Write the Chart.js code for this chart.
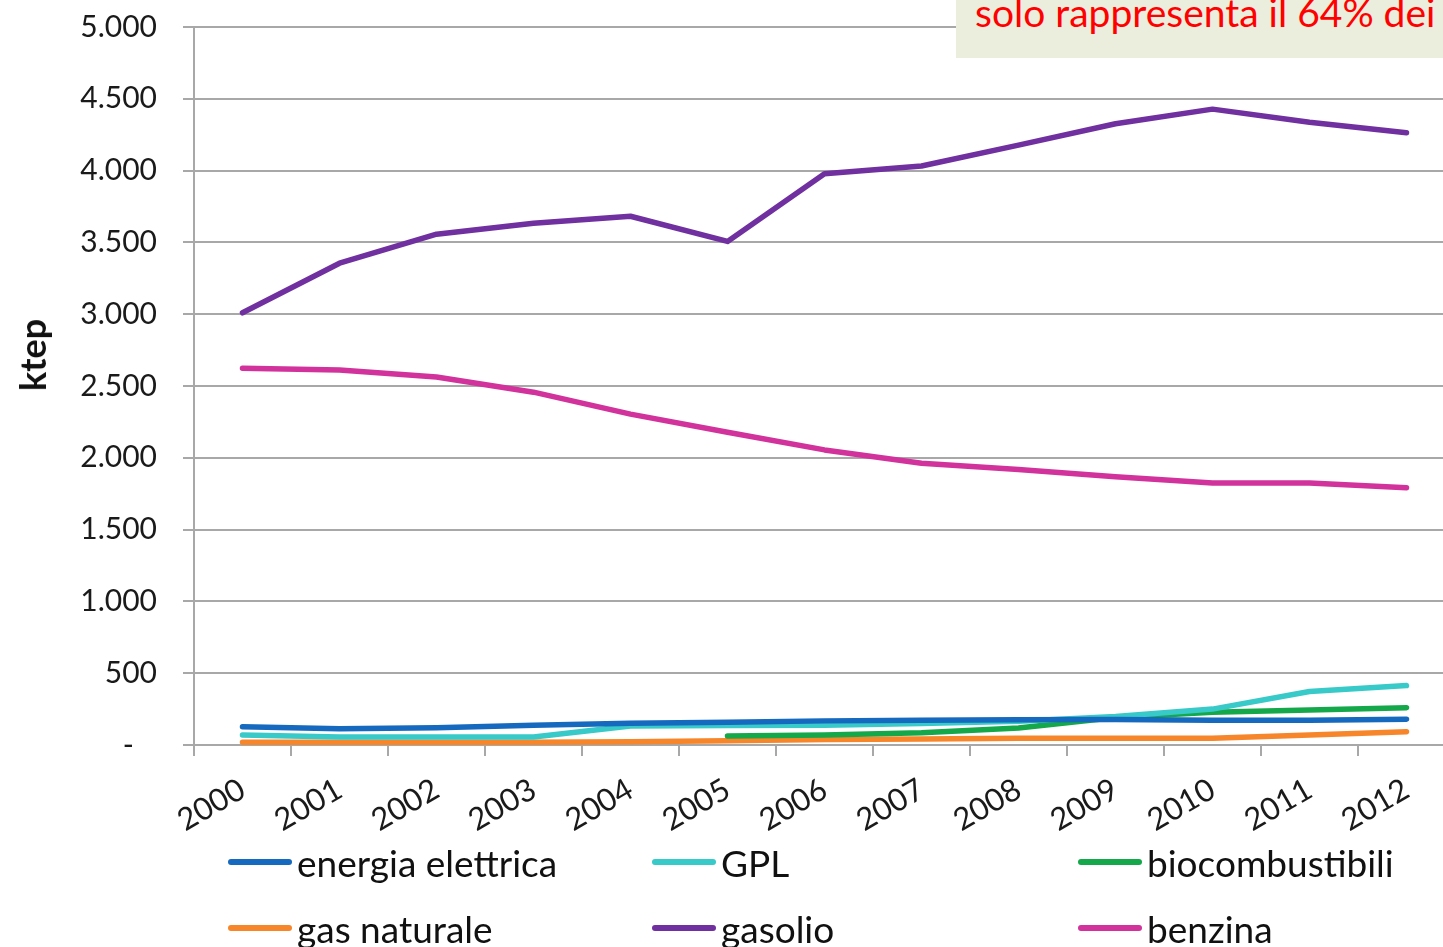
<!DOCTYPE html>
<html lang="it">
<head>
<meta charset="utf-8">
<title>Consumi trasporti ktep</title>
<script src="https://cdn.jsdelivr.net/npm/chart.js@4.4.1/dist/chart.umd.min.js"></script>
<style>
    html, body { margin: 0; padding: 0; background: #fff; overflow: hidden; width: 1443px; height: 947px; }
    #wrap { position: absolute; left: 0; top: 0; width: 1460px; height: 947px; }
    #note { position: absolute; left: 956px; top: 0; width: 487px; height: 58px; background: #ebeedd; overflow: hidden; }
    #note span { position: absolute; left: 19px; top: -11px; font: 39px Lato, sans-serif; color: #ff0000; white-space: nowrap; }
    #ytitle { position: absolute; left: 32px; top: 355px; transform: translate(-50%, -50%) rotate(-90deg); font: bold 36px Lato, sans-serif; color: #111; white-space: nowrap; }
    .leg { position: absolute; display: flex; align-items: center; font: 37px Lato, sans-serif; color: #111; white-space: nowrap; }
    .leg i { display: inline-block; width: 64px; height: 6px; border-radius: 3px; margin-right: 5px; }
</style>
</head>
<body>
<div id="wrap"><canvas id="chart"></canvas></div>
<div id="ytitle">ktep</div>
<div id="note"><span>solo rappresenta il 64% dei</span></div>
<div id="legend"></div>

<script>
"use strict";

const years = ["2000", "2001", "2002", "2003", "2004", "2005", "2006", "2007", "2008", "2009", "2010", "2011", "2012"];

const energiaElettrica = [127, 113, 120, 138, 152, 158, 168, 172, 175, 178, 172, 172, 180];
const gpl = [70, 55, 55, 55, 132, 135, 138, 150, 165, 198, 250, 372, 414];
const biocombustibili = [null, null, null, null, null, 63, 70, 85, 118, 192, 228, 243, 260];
const gasNaturale = [20, 20, 20, 20, 22, 30, 38, 42, 47, 47, 47, 70, 93];
const gasolio = [3010, 3355, 3557, 3633, 3682, 3507, 3978, 4032, 4177, 4326, 4428, 4337, 4263];
const benzina = [2624, 2612, 2563, 2457, 2304, 2178, 2055, 1962, 1918, 1868, 1825, 1825, 1792];

const yTicks = [0, 500, 1000, 1500, 2000, 2500, 3000, 3500, 4000, 4500, 5000];

// ordine della legenda (riga per riga)
const series = [
    { label: "energia elettrica", data: energiaElettrica, color: "#1569bf" },
    { label: "GPL", data: gpl, color: "#38c9c9" },
    { label: "biocombustibili", data: biocombustibili, color: "#14a84a" },
    { label: "gas naturale", data: gasNaturale, color: "#f7862a" },
    { label: "gasolio", data: gasolio, color: "#7030a0" },
    { label: "benzina", data: benzina, color: "#d1329c" }
];

function formatIt(v) {
    if (v === 0) return "-   ";
    return String(v).replace(/\B(?=(\d{3})+(?!\d))/g, ".");
}

const gridColor = "#a8a8a8";
const ctx = document.getElementById("chart").getContext("2d");

const chart = new Chart(ctx, {
    type: "line",
    data: {
        labels: years,
        datasets: series.map(s => ({
            label: s.label,
            data: s.data,
            borderColor: s.color,
            backgroundColor: s.color,
            borderWidth: 5.5,
            borderCapStyle: "round",
            borderJoinStyle: "round",
            pointRadius: 0,
            tension: 0,
            spanGaps: false
        }))
    },
    options: {
        responsive: true,
        maintainAspectRatio: false,
        animation: false,
        layout: {
            padding: { top: 27, left: 0, right: 5, bottom: 102 }
        },
        plugins: {
            legend: { display: false },
            tooltip: { enabled: false }
        },
        scales: {
            x: {
                offset: true,
                grid: {
                    offset: true,
                    drawOnChartArea: false,
                    drawTicks: true,
                    tickLength: 11,
                    color: gridColor,
                    lineWidth: 2
                },
                border: { display: true, color: gridColor, width: 2 },
                ticks: {
                    autoSkip: false,
                    minRotation: 30,
                    maxRotation: 30,
                    padding: 15,
                    color: "#1a1a1a",
                    font: { family: "Lato", size: 31 }
                },
                afterFit: scale => { scale.height = 100; }
            },
            y: {
                min: 0,
                max: 5000,
                afterBuildTicks: scale => { scale.ticks = yTicks.map(v => ({ value: v })); },
                grid: {
                    color: gridColor,
                    lineWidth: 2,
                    tickLength: 11
                },
                border: { display: true, color: gridColor, width: 2 },
                ticks: {
                    padding: 26,
                    color: "#1a1a1a",
                    font: { family: "Lato", size: 30 },
                    callback: v => formatIt(v)
                },
                afterFit: scale => {
                    scale.width = 194;
                    scale.paddingTop = 0;
                    scale.paddingBottom = 0;
                }
            }
        }
    }
});

// legenda a griglia sotto il grafico, costruita dai dataset
const legendPos = [
    [228, 862], [652, 862], [1078, 862],
    [228, 928], [652, 928], [1078, 928]
];
const legendBox = document.getElementById("legend");
chart.data.datasets.forEach((ds, i) => {
    const item = document.createElement("div");
    item.className = "leg";
    item.style.left = legendPos[i][0] + "px";
    item.style.top = (legendPos[i][1] - 25) + "px";
    item.style.height = "50px";
    item.innerHTML = '<i style="background:' + ds.borderColor + '"></i><span>' + ds.label + '</span>';
    legendBox.appendChild(item);
});
</script>
</body>
</html>
